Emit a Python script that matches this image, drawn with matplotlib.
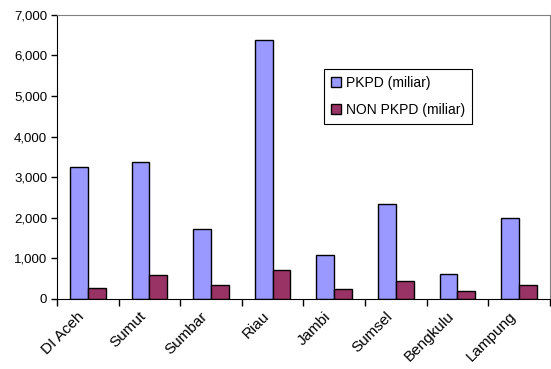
import matplotlib.pyplot as plt
import numpy as np
from matplotlib.transforms import ScaledTranslation

plt.rcParams['font.family'] = ['Liberation Sans', 'DejaVu Sans']

provinsi = ['DI Aceh', 'Sumut', 'Sumbar', 'Riau', 'Jambi', 'Sumsel', 'Bengkulu', 'Lampung']
pkpd = [3250, 3370, 1720, 6390, 1080, 2350, 625, 1990]
non_pkpd = [280, 590, 345, 700, 245, 450, 205, 345]

x = np.arange(len(provinsi))
w = 0.29

fig = plt.figure(figsize=(5.51, 3.69), dpi=100)
ax = fig.add_axes([0.1034, 0.19, 0.8946, 0.77])

ax.bar(x - w / 2, pkpd, w, color='#9999FF', edgecolor='black', linewidth=1.0,
       label='PKPD (miliar)')
ax.bar(x + w / 2, non_pkpd, w, color='#993366', edgecolor='black', linewidth=1.0,
       label='NON PKPD (miliar)')

ax.set_xlim(-0.5, len(provinsi) - 0.5)
ax.set_ylim(0, 7000)
ax.set_yticks(range(0, 7001, 1000))
ax.set_yticklabels([f'{v:,}' for v in range(0, 7001, 1000)], fontsize=9.5)

# category labels in the middle, ticks on the boundaries
ax.set_xticks(x)
ax.set_xticklabels(provinsi, rotation=45, ha='right', va='center',
                   rotation_mode='anchor', fontsize=11)
ax.tick_params(axis='x', length=0, pad=11)
shift = ScaledTranslation(-4 / 72, 0, fig.dpi_scale_trans)
for lbl in ax.get_xticklabels():
    lbl.set_transform(lbl.get_transform() + shift)
ax.set_xticks(np.arange(-0.5, len(provinsi)), minor=True)
ax.tick_params(axis='x', which='minor', length=5, width=1, direction='out')
ax.tick_params(axis='y', length=4, width=1, direction='out', pad=3)

for s in ['top', 'right']:
    ax.spines[s].set_color('#808080')
for s in ['left', 'bottom']:
    ax.spines[s].set_color('black')

leg = ax.legend(loc='upper left', bbox_to_anchor=(0.542, 0.81), fontsize=10,
                frameon=True, fancybox=False, edgecolor='black', framealpha=1,
                handlelength=0.72, handleheight=0.72, handletextpad=0.34,
                borderpad=0.5, labelspacing=0.95, borderaxespad=0)
leg.get_frame().set_linewidth(0.8)

fig.savefig('out.png', dpi=100, facecolor='white')
